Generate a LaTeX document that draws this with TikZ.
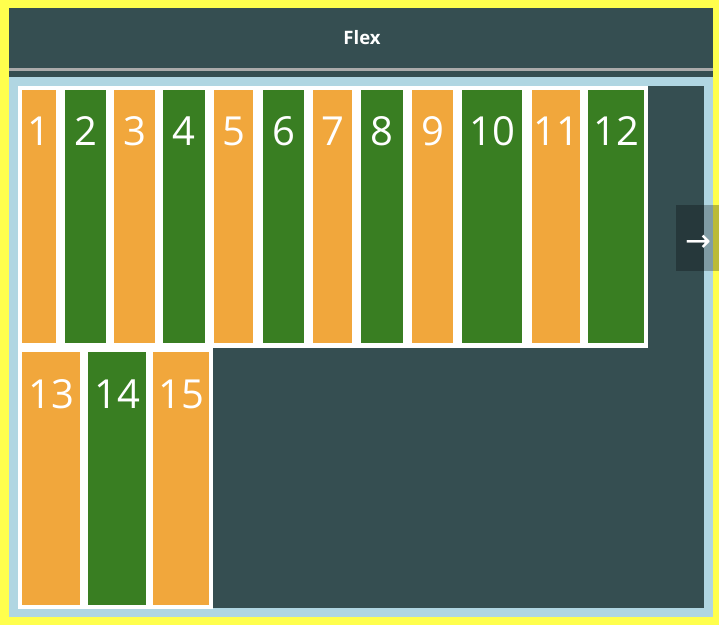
\documentclass[tikz,border=0pt]{standalone}
\usepackage{fontspec}
\setmainfont{Open Sans}
\setsansfont{Open Sans}
\newfontfamily\symfont{DejaVu Sans}
\usepackage{xcolor}
\usetikzlibrary{arrows.meta, positioning, calc}

\begin{document}
\begin{tikzpicture}[
    x=1pt, y=-1pt,
    every node/.style={font=\sffamily},
    item/.style={draw=none, anchor=north west, inner sep=0pt, outer sep=0pt,
        minimum height=253pt},
    num/.style={text=white, anchor=base, inner sep=0pt,
        font=\sffamily\fontsize{40}{46}\selectfont},
    rowbg/.style={fill=white, draw=none, anchor=north west, inner sep=0pt,
        outer sep=0pt},
    navbtn/.style={fill=black, fill opacity=0.27, draw=none,
        anchor=north west, inner sep=0pt, outer sep=0pt, text opacity=1}
]
\definecolor{cFrame}{RGB}{255,255,77}
\definecolor{cPanel}{RGB}{53,78,81}
\definecolor{cBorder}{RGB}{176,214,226}
\definecolor{cRule}{RGB}{170,170,170}
\definecolor{cOrange}{RGB}{241,167,60}
\definecolor{cGreen}{RGB}{57,126,34}

\useasboundingbox (0,0) rectangle (719,628);

% Frame and header
\node[fill=cFrame, anchor=north west, inner sep=0pt, outer sep=0pt,
      minimum width=719pt, minimum height=625pt] (frame) at (0,0) {};
\node[fill=cPanel, anchor=north west, inner sep=0pt, outer sep=0pt,
      minimum width=704pt, minimum height=69pt] (header) at (9,8) {};
\node[text=white, font=\sffamily\bfseries\fontsize{18.5}{22}\selectfont]
      (title) at (362,38) {Flex};
\draw[cRule, line width=2.5pt] (header.west |- 0,69.5) -- (header.east |- 0,69.5);

% Flex container
\node[fill=cPanel, draw=cBorder, line width=9pt, anchor=north west,
      inner sep=0pt, outer sep=0pt, minimum width=695pt, minimum height=531pt]
      (container) at (13.5,81.5) {};

% Rows
\node[rowbg, minimum width=630pt, minimum height=262pt] (row1) at (18,86) {};
\node[rowbg, minimum width=195pt, minimum height=261pt] (row2) at (18,348) {};

% Items
\foreach \n/\x/\y/\w/\c in {
    1/22/90/34/cOrange, 2/65/90/41/cGreen, 3/114/90/41/cOrange,
    4/163/90/42/cGreen, 5/214/90/39/cOrange, 6/263/90/41/cGreen,
    7/313/90/39/cOrange, 8/361/90/42/cGreen, 9/412/90/41/cOrange,
    10/462/90/60/cGreen, 11/532/90/48/cOrange, 12/588/90/56/cGreen,
    13/22/352/58/cOrange, 14/88/352/58/cGreen, 15/153/352/56/cOrange}{
  \node[item, fill=\c, minimum width=\w pt] (i\n) at (\x,\y) {};
  \node[num] (n\n) at ($(i\n.north)+(0,56)$) {\n};
}

% Scroll button
\node[navbtn, minimum width=43pt, minimum height=66pt] (next) at (676,205) {};
\node[text=white, font=\symfont\fontsize{31}{33}\selectfont, inner sep=0pt]
      (nextarrow) at (698.5,243) {→};

\end{tikzpicture}
\end{document}
